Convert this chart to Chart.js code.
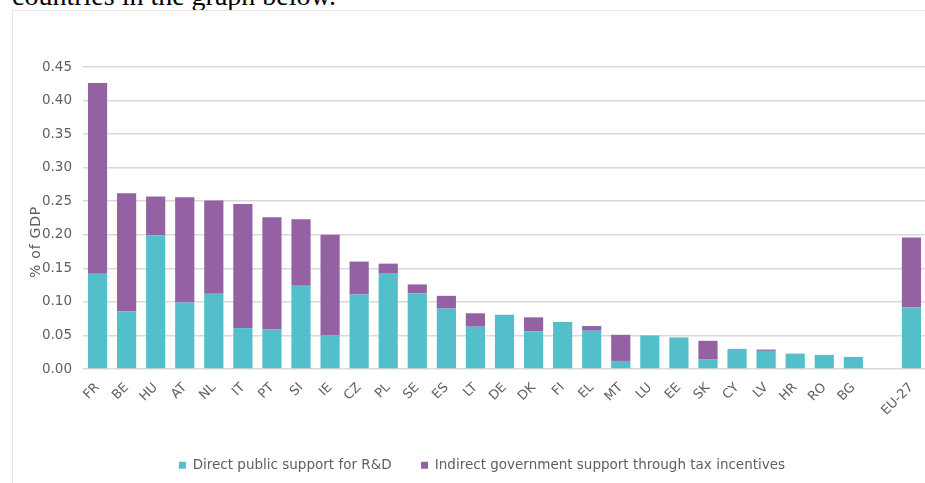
<!DOCTYPE html>
<html>
<head>
<meta charset="utf-8">
<script src="https://cdn.jsdelivr.net/npm/chart.js@4.4.1/dist/chart.umd.min.js"></script>
<style>
    html, body { margin: 0; padding: 0; background: #fff; overflow: hidden; width: 925px; height: 483px; }
    #intro { position: absolute; left: 12px; top: -20px; font-family: "Liberation Serif", serif; font-size: 28px; color: #000; white-space: nowrap; }
    #panel { position: absolute; left: 12px; top: 10px; width: 980px; height: 500px; border: 1px solid #e6e6e6; }
    #chartBox { position: absolute; left: 0; top: 0; width: 938px; height: 471px; }
</style>
</head>
<body>
<div id="intro">countries in the graph below.</div>
<div id="panel">
    <div id="chartBox"><canvas id="rdChart"></canvas></div>
</div>
<script>
// country codes (empty slot before the EU-27 bar)
const countries = ["FR", "BE", "HU", "AT", "NL", "IT", "PT", "SI", "IE", "CZ", "PL", "SE", "ES", "LT", "DE",
    "DK", "FI", "EL", "MT", "LU", "EE", "SK", "CY", "LV", "HR", "RO", "BG", "", "EU-27"];

// direct public support for R&D, % of GDP
const directSupport = [0.142, 0.086, 0.199, 0.099, 0.112, 0.061, 0.059, 0.124, 0.050, 0.111, 0.142, 0.113, 0.090, 0.063, 0.081,
    0.056, 0.070, 0.057, 0.012, 0.050, 0.047, 0.014, 0.030, 0.027, 0.023, 0.021, 0.018, null, 0.092];

// indirect support through tax incentives, % of GDP
const indirectSupport = [0.284, 0.176, 0.058, 0.157, 0.139, 0.185, 0.167, 0.099, 0.150, 0.049, 0.015, 0.013, 0.019, 0.020, 0,
    0.021, 0, 0.007, 0.039, 0, 0, 0.028, 0, 0.002, 0, 0, 0, null, 0.104];

const yTicks = [0, 0.05, 0.10, 0.15, 0.20, 0.25, 0.30, 0.35, 0.40, 0.45];
const yTitle = "% of GDP";

const tealColor = "#53bfca";
const purpleColor = "#9461a3";
const textGrey = "#606060";

// axis title drawn by hand so it sits where the original one is
const yTitlePlugin = {
    id: "yTitlePlugin",
    afterDraw(chart) {
        const ctx = chart.ctx;
        ctx.save();
        ctx.translate(23, 231);
        ctx.rotate(-Math.PI / 2);
        ctx.font = "14px 'DejaVu Sans'";
        ctx.letterSpacing = "0.8px";
        ctx.fillStyle = textGrey;
        ctx.textAlign = "center";
        ctx.textBaseline = "middle";
        ctx.fillText(yTitle, 0, 0);
        ctx.restore();
    }
};

function drawChart() {
    const ctx = document.getElementById("rdChart").getContext("2d");

    new Chart(ctx, {
        type: "bar",
        data: {
            labels: countries,
            datasets: [
                {
                    label: "Direct public support for R&D",
                    data: directSupport,
                    backgroundColor: tealColor,
                    categoryPercentage: 0.66,
                    barPercentage: 1
                },
                {
                    label: "Indirect government support through tax incentives",
                    data: indirectSupport,
                    backgroundColor: purpleColor,
                    categoryPercentage: 0.66,
                    barPercentage: 1
                }
            ]
        },
        plugins: [yTitlePlugin],
        options: {
            responsive: true,
            maintainAspectRatio: false,
            animation: false,
            layout: {
                padding: { top: 56, right: 0, bottom: 0, left: 0 }
            },
            plugins: {
                legend: {
                    position: "bottom",
                    labels: {
                        boxWidth: 7,
                        boxHeight: 7,
                        padding: 29.5,
                        color: textGrey,
                        font: { family: "DejaVu Sans", size: 13.5 }
                    }
                },
                tooltip: { enabled: false }
            },
            scales: {
                x: {
                    stacked: true,
                    grid: { display: false },
                    border: { display: false },
                    ticks: {
                        minRotation: 45,
                        maxRotation: 45,
                        autoSkip: false,
                        color: textGrey,
                        font: { family: "DejaVu Sans", size: 13 }
                    },
                    afterFit: function (scale) {
                        scale.height = 60;
                    }
                },
                y: {
                    stacked: true,
                    min: 0,
                    max: 0.45,
                    afterBuildTicks: function (scale) {
                        scale.ticks = yTicks.map(v => ({ value: v }));
                    },
                    grid: { color: "#d9d9d9", lineWidth: 1.5, drawTicks: false },
                    border: { display: false },
                    ticks: {
                        padding: 11,
                        color: textGrey,
                        font: { family: "DejaVu Sans", size: 13.5 },
                        callback: function (value) {
                            return Number(value).toFixed(2);
                        }
                    },
                    afterFit: function (scale) {
                        scale.width = 70;
                    }
                },
                // empty right-hand axis, only keeps room beyond the plot
                yRight: {
                    position: "right",
                    min: 0,
                    max: 0.45,
                    grid: { display: false },
                    border: { display: false },
                    ticks: { display: false },
                    afterFit: function (scale) {
                        scale.width = 25;
                    }
                }
            }
        }
    });
}

document.addEventListener("DOMContentLoaded", drawChart);
</script>
</body>
</html>
